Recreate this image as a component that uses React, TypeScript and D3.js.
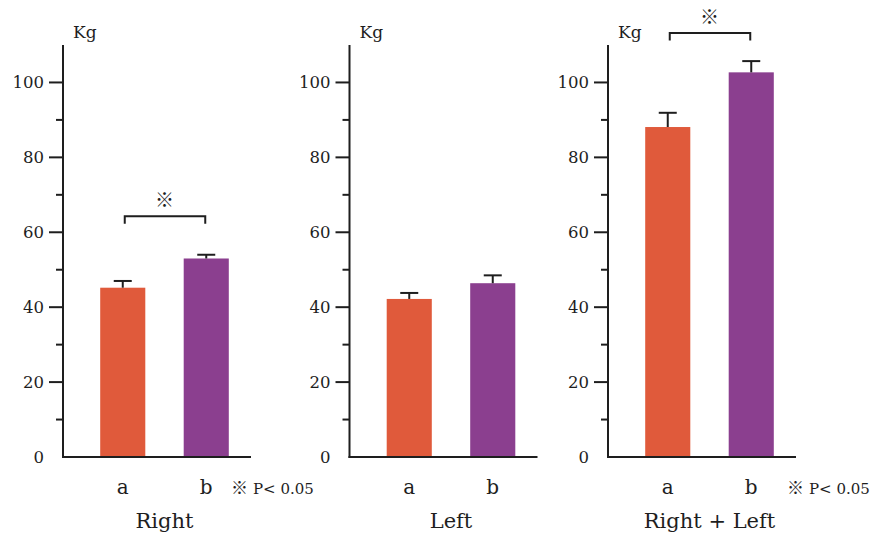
import React from "react";
import * as d3 from "d3";

const categories = ["a", "b"];
const panelTitles = ["Right", "Left", "Right + Left"];
const meanRight = [45.2, 53.0];
const errRight = [1.8, 1.0];
const meanLeft = [42.2, 46.4];
const errLeft = [1.6, 2.1];
const meanBoth = [88.1, 102.7];
const errBoth = [3.8, 3.0];
const significant = [true, false, true];
const bracketLevel = [64.3, 0, 113.2];
const majorTicks = [20, 40, 60, 80, 100];
const zeroLabel = [0];
const minorTicks = [10, 30, 50, 70, 90];
const unitLabel = "Kg";
const sigMark = "※";
const pLabel = "P< 0.05";

const panelMeans = [meanRight, meanLeft, meanBoth];
const panelErrs = [errRight, errLeft, errBoth];

const W = 873;
const H = 538;
const axisXs = [63, 349.5, 608];
const annotX = [231, 0, 787];
const colors = ["#E05A3B", "#8B3F8F"];
const ink = "#1e1e1e";
const serif = "'DejaVu Serif', 'Liberation Serif', serif";
const markFont = "'Noto Sans CJK JP', 'DejaVu Sans', sans-serif";

const y = d3.scaleLinear().domain([0, 110]).range([457, 45]);

function Panel({ idx }: { idx: number }) {
  const ax = axisXs[idx];
  const x = d3
    .scaleBand<string>()
    .domain(categories)
    .range([ax + 18, ax + 18 + 167])
    .paddingInner(0.46)
    .paddingOuter(0.23);
  const means = panelMeans[idx];
  const errs = panelErrs[idx];
  const bw = x.bandwidth();
  const cx = (c: string) => (x(c) as number) + bw / 2;
  const barsCenter = (cx(categories[0]) + cx(categories[1])) / 2;
  const y0 = y(0);
  return (
    <g>
      {categories.map((c, i) => (
        <rect key={c} x={x(c)} y={y(means[i])} width={bw} height={y0 - y(means[i])} fill={colors[i]} />
      ))}
      {categories.map((c, i) => (
        <g key={"e" + c} stroke={ink} strokeWidth={2}>
          <line x1={cx(c)} x2={cx(c)} y1={y(means[i])} y2={y(means[i] + errs[i])} />
          <line x1={cx(c) - 9} x2={cx(c) + 9} y1={y(means[i] + errs[i])} y2={y(means[i] + errs[i])} />
        </g>
      ))}
      <line x1={ax} x2={ax} y1={y(110)} y2={y0 + 1} stroke={ink} strokeWidth={2} />
      <line x1={ax - 1} x2={ax + 188} y1={y0} y2={y0} stroke={ink} strokeWidth={2} />
      {majorTicks.map((t) => (
        <line key={"M" + t} x1={ax - 14} x2={ax} y1={y(t)} y2={y(t)} stroke={ink} strokeWidth={2} />
      ))}
      {minorTicks.map((t) => (
        <line key={"m" + t} x1={ax - 7} x2={ax} y1={y(t)} y2={y(t)} stroke={ink} strokeWidth={2} />
      ))}
      {[...zeroLabel, ...majorTicks].map((t) => (
        <text key={"l" + t} x={ax - 19} y={y(t)} dy="0.35em" textAnchor="end" fontFamily={serif} fontSize={16.5} fill={ink}>
          {t}
        </text>
      ))}
      <text x={ax + 10} y={38} fontFamily={serif} fontSize={17} fill={ink}>
        {unitLabel}
      </text>
      {categories.map((c) => (
        <text key={"c" + c} x={cx(c)} y={494} textAnchor="middle" fontFamily={serif} fontSize={20} fill={ink}>
          {c}
        </text>
      ))}
      <text x={barsCenter} y={528} textAnchor="middle" fontFamily={serif} fontSize={21} fill={ink}>
        {panelTitles[idx]}
      </text>
      {significant[idx] && (
        <g>
          <path
            d={`M${cx(categories[0]) + 2},${y(bracketLevel[idx]) + 7.5}V${y(bracketLevel[idx])}H${cx(categories[1]) - 1}V${y(bracketLevel[idx]) + 7.5}`}
            fill="none"
            stroke={ink}
            strokeWidth={2}
          />
          <text x={barsCenter} y={y(bracketLevel[idx]) - 16} dy="0.35em" textAnchor="middle" fontFamily={markFont} fontSize={19} fill={ink}>
            {sigMark}
          </text>
          <text x={annotX[idx]} y={494} fontFamily={serif} fontSize={15} fill={ink}>
            <tspan fontFamily={markFont} fontSize={17}>{sigMark}</tspan>
            <tspan dx={5}>{pLabel}</tspan>
          </text>
        </g>
      )}
    </g>
  );
}

export default function App() {
  return (
    <svg width={W} height={H} style={{ position: "absolute", left: 0, top: 0, background: "#fff" }}>
      <rect width={W} height={H} fill="#fff" />
      {panelTitles.map((_, i) => (
        <Panel key={i} idx={i} />
      ))}
    </svg>
  );
}
